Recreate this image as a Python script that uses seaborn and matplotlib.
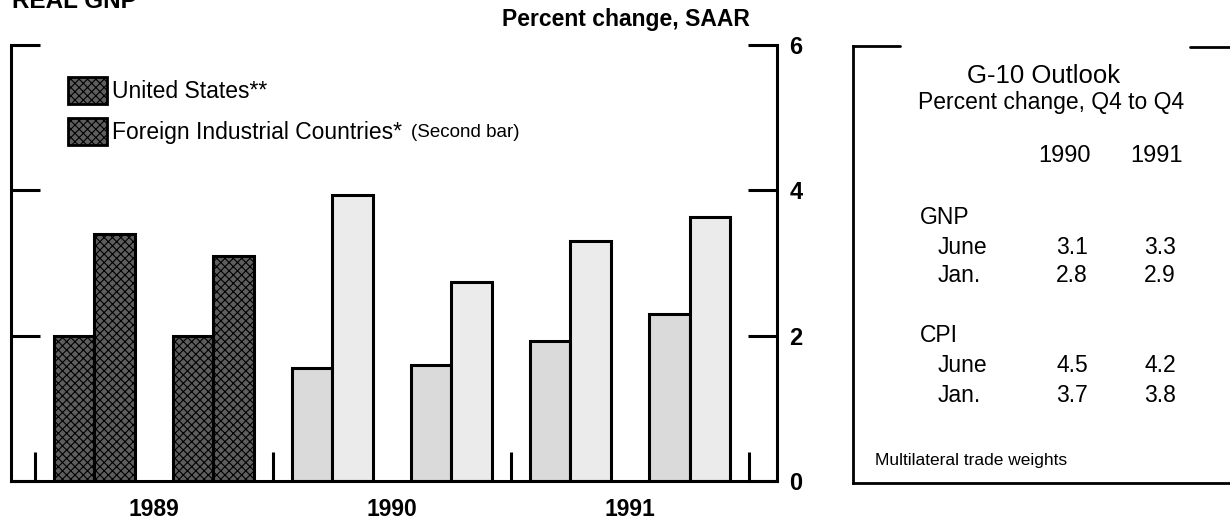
import pandas as pd
import matplotlib.pyplot as plt
import matplotlib.patches as mpatches
import seaborn as sns

# Chart data (percent change, SAAR), half-years 1989-1991
periods = ['1989 H1', '1989 H2', '1990 H1', '1990 H2', '1991 H1', '1991 H2']
us_gnp = [2.0, 2.0, 1.56, 1.6, 1.93, 2.3]
foreign_gnp = [3.4, 3.1, 3.93, 2.74, 3.3, 3.63]
n_actual = 2  # first two periods are actual (dark), the rest projected
years = ['1989', '1990', '1991']

# G-10 outlook table
outlook_cols = ['1990', '1991']
gnp_june = [3.1, 3.3]
gnp_jan = [2.8, 2.9]
cpi_june = [4.5, 4.2]
cpi_jan = [3.7, 3.8]

us_label = 'United States**'
foreign_label = 'Foreign Industrial Countries*'

df = pd.DataFrame({
    'period': periods * 2,
    'value': us_gnp + foreign_gnp,
    'series': [us_label] * len(periods) + [foreign_label] * len(periods),
})

sns.set_theme(style='white')
plt.rcParams['font.family'] = ['Liberation Sans', 'DejaVu Sans']
plt.rcParams['text.color'] = 'black'
plt.rcParams['xtick.color'] = 'black'
plt.rcParams['ytick.color'] = 'black'
plt.rcParams['hatch.linewidth'] = 0.8

W, H = 1230, 519
fig = plt.figure(figsize=(W / 100, H / 100), dpi=100)

# main chart axes
left, right, top, bottom = 11, 777, 45, 481
ax = fig.add_axes([left / W, 1 - bottom / H, (right - left) / W, (bottom - top) / H])

sns.barplot(
    data=df, x='period', y='value', hue='series',
    width=0.68, gap=0, saturation=1,
    palette=['#808080', '#808080'],
    edgecolor='black', linewidth=2.2,
    legend=False, ax=ax
)

dark_face = '#5e5e5e'
light_faces = ['#dadada', '#ebebeb']  # US projected a bit denser than foreign
for k, cont in enumerate(ax.containers):
    for i, bar in enumerate(cont):
        if i < n_actual:
            bar.set_facecolor(dark_face)
            bar.set_hatch('xxxx')
        else:
            bar.set_facecolor(light_faces[k])

ax.set_xlim(-0.7, 5.735)
ax.set_ylim(0, 6)
ax.set_xlabel('')
ax.set_ylabel('')

ax.spines['top'].set_visible(False)
for s in ['left', 'right', 'bottom']:
    ax.spines[s].set_linewidth(2.2)
    ax.spines[s].set_color('black')

ax.set_yticks([0, 2, 4, 6])
ax.yaxis.set_ticks_position('both')
ax.tick_params(axis='y', direction='in', length=21, width=2.2, color='black',
               labelcolor='black', labelleft=False, labelright=True, pad=9,
               labelsize=17)
for t in ax.get_yticklabels():
    t.set_fontweight('bold')

ax.set_xticks([0.5, 2.5, 4.5], years)
ax.set_xticks([-0.5, 1.5, 3.5, 5.5], minor=True)
ax.tick_params(axis='x', which='major', length=0, pad=12, labelsize=16.5,
               labelcolor='black')
ax.tick_params(axis='x', which='minor', direction='in', length=21, width=2.2,
               color='black', bottom=True)
for t in ax.get_xticklabels():
    t.set_fontweight('bold')

# legend
handles = [
    mpatches.Patch(facecolor=dark_face, hatch='xxxx', edgecolor='black', linewidth=2),
    mpatches.Patch(facecolor=dark_face, hatch='xxxx', edgecolor='black', linewidth=2),
]
leg = ax.legend(
    handles, [us_label, foreign_label],
    loc='upper left', bbox_to_anchor=((68 - left) / (right - left), (bottom - 77) / (bottom - top)),
    frameon=False, fontsize=16.5, handlelength=1.7, handleheight=1.45,
    handletextpad=0.22, labelspacing=0.6, borderpad=0, borderaxespad=0,
    labelcolor='black'
)

fig.canvas.draw()
ext = leg.get_texts()[1].get_window_extent()
fig.text((ext.x1 + 9) / W, (ext.y0 + ext.y1) / 2 / H, '(Second bar)',
         fontsize=13.5, va='center', ha='left')

fig.text(12 / W, 1 - 8 / H, 'REAL GNP', fontsize=17.5, fontweight='bold',
         va='baseline', ha='left')
fig.text(750 / W, 1 - 26 / H, 'Percent change, SAAR', fontsize=16.5,
         fontweight='bold', va='baseline', ha='right')

# G-10 outlook box, positioned in pixel-like coordinates
bx0, bx1, by0, by1 = 853, 1240, 46, 483
ax2 = fig.add_axes([bx0 / W, 1 - by1 / H, (bx1 - bx0) / W, (by1 - by0) / H])
ax2.set_xlim(bx0, bx1)
ax2.set_ylim(by1, by0)
ax2.set_xticks([])
ax2.set_yticks([])
ax2.set_facecolor('none')
for s in ['top', 'right']:
    ax2.spines[s].set_visible(False)
for s in ['left', 'bottom']:
    ax2.spines[s].set_linewidth(2)
    ax2.spines[s].set_color('black')
ax2.plot([bx0, 900], [by0, by0], color='black', lw=2, clip_on=False)
ax2.plot([1190, 1240], [by0 + 1, by0 + 1], color='black', lw=2, clip_on=False)

ax2.text(1044, 76, 'G-10 Outlook', fontsize=18.5, ha='center', va='center')
ax2.text(1051, 103, 'Percent change, Q4 to Q4', fontsize=16.5, ha='center', va='center')
head_x = [1065, 1157]
col_x = [1072, 1160]
for x, c in zip(head_x, outlook_cols):
    ax2.text(x, 156, c, fontsize=17, ha='center', va='center')

rows = [
    ('GNP', None, 217, 920),
    ('June', gnp_june, 248, 938),
    ('Jan.', gnp_jan, 276, 938),
    ('CPI', None, 335, 920),
    ('June', cpi_june, 365, 938),
    ('Jan.', cpi_jan, 395, 938),
]
for label, vals, y, x in rows:
    ax2.text(x, y, label, fontsize=16.5, ha='left', va='center')
    if vals is not None:
        for cx, v in zip(col_x, vals):
            ax2.text(cx, y, f'{v:.1f}', fontsize=16.5, ha='center', va='center')

ax2.text(875, 460, 'Multilateral trade weights', fontsize=12.5, ha='left', va='center')

fig.savefig('out.png', dpi=100)
